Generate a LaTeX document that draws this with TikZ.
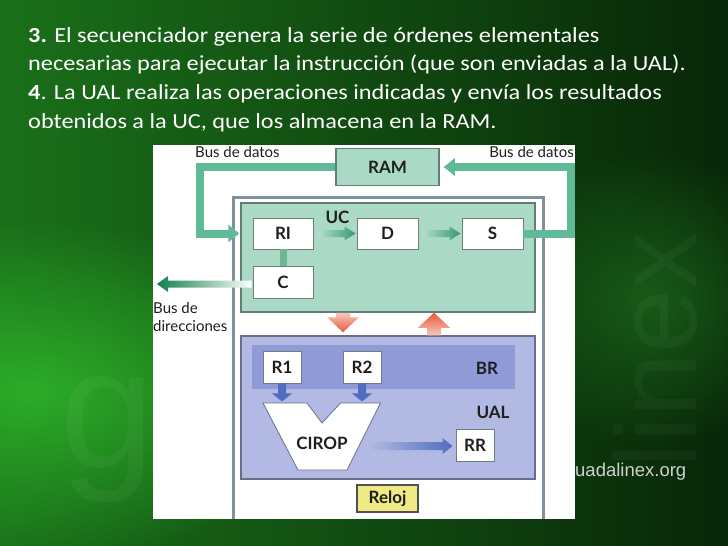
\documentclass[tikz,border=0pt]{standalone}
\usepackage{fontspec}
\setmainfont{Carlito}[FakeStretch=1.13]
\newfontfamily\diag{Lato}
\newfontfamily\wm{Liberation Sans}
\usetikzlibrary{calc,arrows.meta,fadings}
\tikzfading[name=softglow, inner color=transparent!0, outer color=transparent!100]
\definecolor{bgL}{RGB}{26,112,26}
\definecolor{bgR}{RGB}{8,38,8}
\definecolor{bgGlow}{RGB}{44,172,40}
\definecolor{bgMid}{RGB}{30,110,30}
\definecolor{busC}{RGB}{96,186,152}
\definecolor{busC2}{RGB}{110,182,150}
\definecolor{ucF}{RGB}{170,218,198}
\definecolor{ucB}{RGB}{100,125,118}
\definecolor{boxB}{RGB}{110,128,124}
\definecolor{outerB}{RGB}{125,145,160}
\definecolor{ualF}{RGB}{178,186,228}
\definecolor{ualB}{RGB}{105,110,138}
\definecolor{brF}{RGB}{143,154,214}
\definecolor{blueA}{RGB}{80,110,192}
\definecolor{redD}{RGB}{232,88,58}
\definecolor{redL}{RGB}{248,200,188}
\definecolor{tealL}{RGB}{178,222,206}
\definecolor{tealD}{RGB}{58,150,118}
\definecolor{dirD}{RGB}{18,128,78}
\definecolor{relojF}{RGB}{240,234,132}
\definecolor{relojB}{RGB}{80,80,80}
\definecolor{txt}{RGB}{30,30,30}
\definecolor{wmC}{RGB}{205,210,205}
% gradient arrows: #1 start, #2 tip, #3 half shaft, #4 half head, #5 head length, #6 tail colour, #7 tip colour
\newcommand\ArrR[7]{\shade[left color=#6,right color=#7] let \p1=(#1),\p2=(#2) in (\x1,\y1+#3)--(\x2-#5,\y1+#3)--(\x2-#5,\y1+#4)--(\x2,\y1)--(\x2-#5,\y1-#4)--(\x2-#5,\y1-#3)--(\x1,\y1-#3)--cycle;}
\newcommand\ArrL[7]{\shade[left color=#7,right color=#6] let \p1=(#1),\p2=(#2) in (\x1,\y1+#3)--(\x2+#5,\y1+#3)--(\x2+#5,\y1+#4)--(\x2,\y1)--(\x2+#5,\y1-#4)--(\x2+#5,\y1-#3)--(\x1,\y1-#3)--cycle;}
\newcommand\ArrD[7]{\shade[top color=#6,bottom color=#7] let \p1=(#1),\p2=(#2) in (\x1+#3,\y1)--(\x1+#3,\y2+#5)--(\x1+#4,\y2+#5)--(\x1,\y2)--(\x1-#4,\y2+#5)--(\x1-#3,\y2+#5)--(\x1-#3,\y1)--cycle;}
\newcommand\ArrU[7]{\shade[bottom color=#6,top color=#7] let \p1=(#1),\p2=(#2) in (\x1+#3,\y1)--(\x1+#3,\y2-#5)--(\x1+#4,\y2-#5)--(\x1,\y2)--(\x1-#4,\y2-#5)--(\x1-#3,\y2-#5)--(\x1-#3,\y1)--cycle;}
\begin{document}
\begin{tikzpicture}[x=1pt,y=-1pt,
  box/.style={draw=boxB, line width=0.9pt, fill=white, inner sep=0pt, font=\diag\bfseries\fontsize{17}{17}\selectfont, text=txt},
  lbl/.style={font=\diag\bfseries\fontsize{17}{17}\selectfont, text=txt, inner sep=0pt},
  smalllbl/.style={font=\diag\fontsize{15}{15}\selectfont, text=txt, inner sep=0pt},
  bus/.style={draw=busC, line width=8pt, -{Triangle[width=17pt,length=11pt]}},
  toptext/.style={font=\fontsize{21.5}{28.7}\selectfont, text=white, anchor=base west, inner sep=0pt}]
\useasboundingbox (0,0) rectangle (728,546);
% background
\shade[left color=bgL, right color=bgR] (0,0) rectangle (728,546);
\fill[bgGlow, path fading=softglow] (30,390) ellipse [x radius=320pt, y radius=170pt];
\fill[bgMid, path fading=softglow, opacity=0.7] (650,300) ellipse [x radius=160pt, y radius=150pt];
\node[rotate=90, text=white, opacity=0.035, font=\wm\fontsize{115}{115}\selectfont] (wmlinex) at (655,350) {linex};
\node[text=white, opacity=0.045, font=\wm\fontsize{170}{170}\selectfont] (wmg) at (108,440) {g};
\node[font=\wm\fontsize{18.5}{18.5}\selectfont, text=wmC, anchor=west, inner sep=0pt] (url) at (575,472) {uadalinex.org};
% text
\node[toptext] (t1) at (28,42) {\textbf{3.} El secuenciador genera la serie de órdenes elementales};
\node[toptext] (t2) at (28,70.7) {necesarias para ejecutar la instrucción (que son enviadas a la UAL).};
\node[toptext] (t3) at (28,99.4) {\textbf{4}. La UAL realiza las operaciones indicadas y envía los resultados};
\node[toptext] (t4) at (28,128) {obtenidos a la UC, que los almacena en la RAM.};
% panel
\fill[white] (153,145) rectangle (575,519);
\draw[draw=outerB, line width=3pt] (233,519) -- (233,197) -- (543,197) -- (543,519);
% RAM and bus labels
\node[box, fill=ucF, draw=ucB, line width=1.5pt, minimum width=103pt, minimum height=37pt] (RAM) at (387.5,167) {RAM};
\node[smalllbl, anchor=west] (bdl) at (195,152.5) {Bus de datos};
\node[smalllbl, anchor=east] (bdr) at (574,152.5) {Bus de datos};
% UC
\node[draw=ucB, line width=1.5pt, fill=ucF, minimum width=294pt, minimum height=109pt, inner sep=0pt] (UC) at (388,257.5) {};
\node[lbl] (uclbl) at (337.5,217) {UC};
\node[box, minimum width=60pt, minimum height=31pt] (RI) at (283,233.5) {RI};
\node[box, minimum width=61pt, minimum height=31pt] (D) at (387.5,233.5) {D};
\node[box, minimum width=61pt, minimum height=31pt] (S) at (492.5,233.5) {S};
\node[box, minimum width=60pt, minimum height=32pt] (C) at (283,282) {C};
\draw[draw=busC2, line width=7pt] (RI.south) -- (C.north);
\ArrR{$(RI.east)+(5,0)$}{$(D.west)+(-1,0)$}{3.5pt}{7pt}{11pt}{tealL}{tealD}
\ArrR{$(D.east)+(4,0)$}{$(S.west)+(-1,0)$}{3.5pt}{7pt}{11pt}{tealL}{tealD}
% buses
\coordinate (lb) at (200,233.5);
\coordinate (rb) at (571,233.5);
\draw[bus] (RAM.west) -| (lb) -- ($(UC.west |- RI.center)+(-1,0)$);
\draw[bus] (S.east) -- (rb) |- ($(RAM.east)+(4,0)$);
% bus de direcciones
\coordinate (bdtip) at (157,284);
\ArrL{$(C.west)+(-1,2)$}{bdtip}{3.5pt}{8pt}{11pt}{white}{dirD}
\node[smalllbl, anchor=base west] (bd1) at (153,313) {Bus de};
\node[smalllbl, anchor=base west] (bd2) at (153,331) {direcciones};
% UAL
\node[draw=ualB, line width=1.5pt, fill=ualF, minimum width=294pt, minimum height=143pt, inner sep=0pt] (UAL) at (388,407.5) {};
\node[fill=brF, minimum width=263pt, minimum height=44pt, inner sep=0pt] (BRband) at (383.5,367) {};
\node[box, minimum width=38pt, minimum height=32pt] (R1) at (282,367) {R1};
\node[box, minimum width=38pt, minimum height=32pt] (R2) at (362,367) {R2};
\node[lbl] (brlbl) at (487,368) {BR};
\node[lbl] (uallbl) at (493,412) {UAL};
\ArrD{R1.south}{$(R1.south)+(0,18)$}{4pt}{10pt}{8pt}{blueA}{blueA}
\ArrD{R2.south}{$(R2.south)+(0,18)$}{4pt}{10pt}{8pt}{blueA}{blueA}
\draw[fill=white, draw=ualB, line width=0.8pt] (263,403) -- (307,403) -- (322,423) -- (340.5,403) -- (380.5,403) -- (347,470) -- (298,470) -- cycle;
\node[lbl] (CIROP) at (322,443) {CIROP};
\node[box, minimum width=38pt, minimum height=32pt] (RR) at (475,445) {RR};
\coordinate (cstart) at (368,446);
\ArrR{cstart}{$(RR.west)+(-3,1)$}{4pt}{8pt}{10pt}{ualF}{blueA}
% red arrows between UC and UAL
\ArrD{$(UC.south)+(-45,0)$}{$(UAL.north)+(-45,-3)$}{7pt}{16pt}{15pt}{redL}{redD}
\ArrU{$(UAL.north)+(46,0)$}{$(UC.south)+(46,0)$}{7pt}{16pt}{15pt}{redL}{redD}
% clock
\node[box, fill=relojF, draw=relojB, line width=1.5pt, minimum width=61pt, minimum height=27pt] (Reloj) at (387.5,498.5) {Reloj};
\end{tikzpicture}
\end{document}
